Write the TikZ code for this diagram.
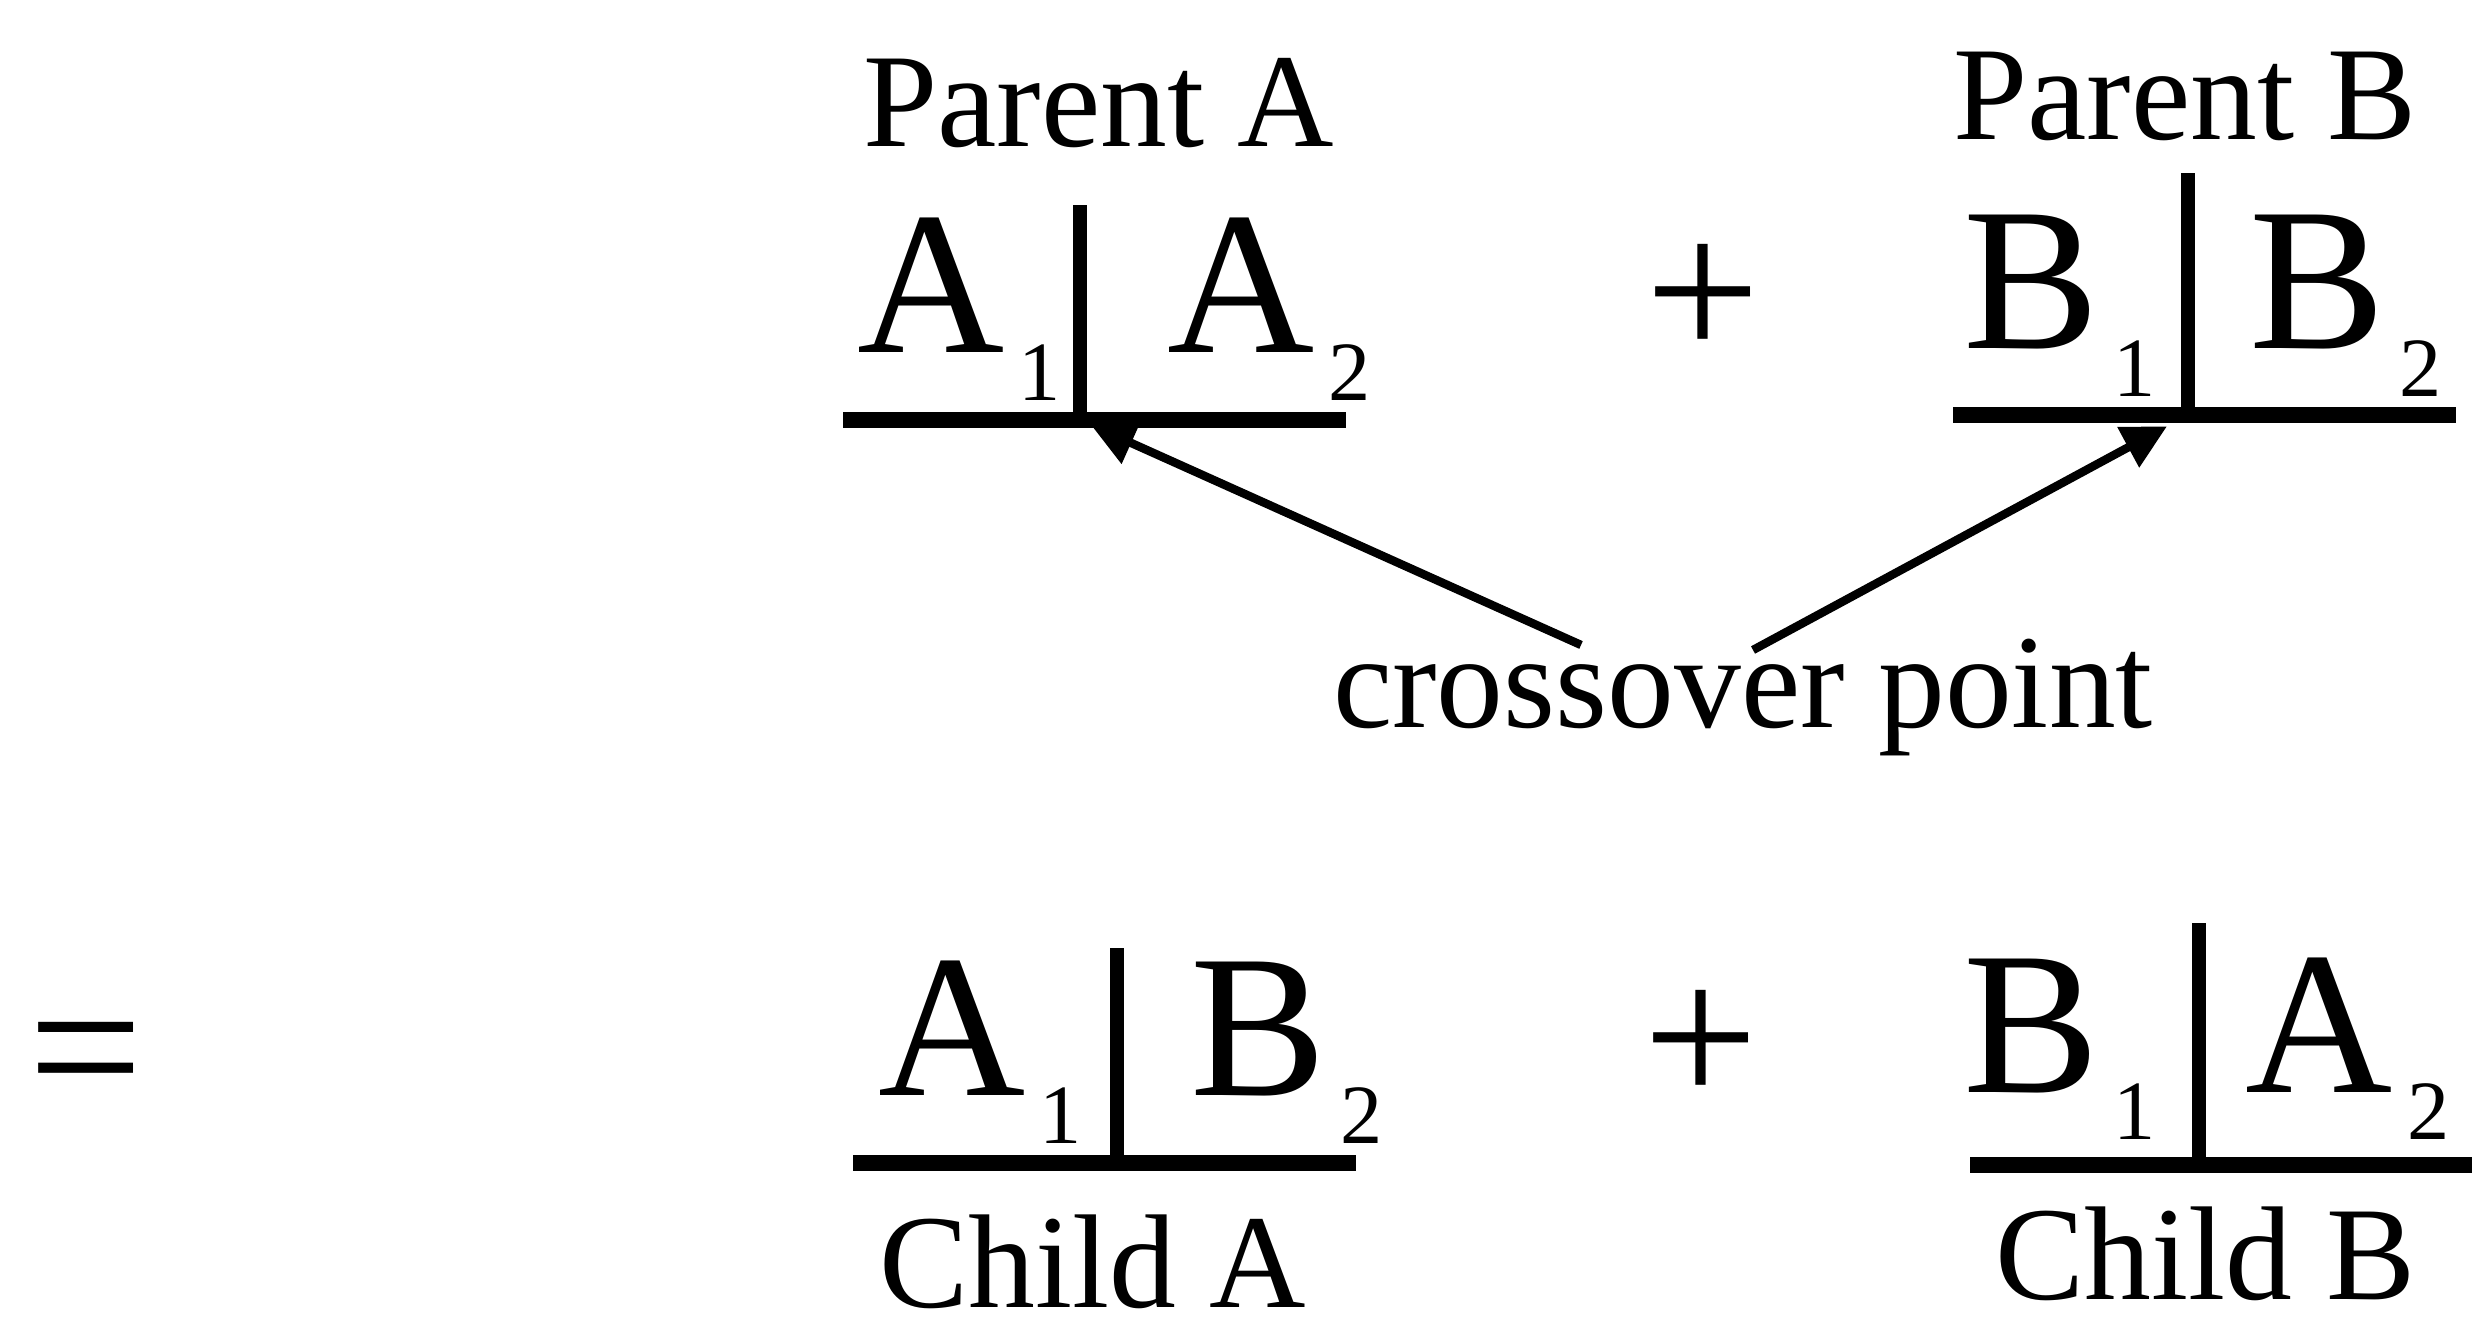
\documentclass[tikz,border=0pt]{standalone}
\usepackage{fontspec}
\setmainfont{Liberation Serif}
\usetikzlibrary{positioning,arrows.meta}
\newcommand{\gene}[2]{#1\hspace{4pt}\raisebox{-13.4pt}{\fontsize{24}{26}\selectfont #2}}
\tikzset{gene/.style ={inner sep=0pt, anchor=base west, font=\fontsize{58}{60}\selectfont},
sign/.style ={inner sep=0pt, anchor=base, font=\fontsize{58}{60}\selectfont},
tagtext/.style ={inner sep=0pt, anchor=base, font=\fontsize{38}{40}\selectfont},
chrom/.style ={line width=4.8pt},
cutbar/.style ={line width=4.2pt},
pointer/.style ={line width=2.4pt, -{Triangle[length=0.44cm,width=0.44cm]}}}
\begin{document}
\begin{tikzpicture}
\useasboundingbox (0,0) rectangle (24.75,13.28);
\node[tagtext] (PA) at (10.985,11.81) {Parent A};
\node[tagtext] (PB) at (21.85,11.88) {Parent B};
\node[gene] (A1) at (8.57,9.75) {\gene{A}{1}};
\node[gene] (A2) at (11.67,9.75) {\gene{A}{2}};
\node[sign] (P1) at (17.03,9.68) {+};
\node[gene] (B1) at (19.63,9.79) {\gene{B}{1}};
\node[gene] (B2) at (22.49,9.79) {\gene{B}{2}};
\coordinate (PAl) at (8.43,9.08);
\coordinate (PAr) at (13.46,9.08);
\coordinate (PAx) at (10.80,9.08);
\coordinate (PAt) at (10.80,11.23);
\coordinate (PBl) at (19.53,9.13);
\coordinate (PBr) at (24.56,9.13);
\coordinate (PBx) at (21.88,9.13);
\coordinate (PBt) at (21.88,11.55);
\draw[chrom] (PAl) -- (PAr);
\draw[cutbar] (PAx) -- (PAt);
\draw[chrom] (PBl) -- (PBr);
\draw[cutbar] (PBx) -- (PBt);
\node[tagtext] (X) at (17.43,6.00) {crossover point};
\coordinate (Xl) at (15.81,6.83);
\coordinate (Xr) at (17.53,6.78);
\draw[pointer, shorten >=0.12cm] (Xl) -- (PAx);
\draw[pointer, shorten >=0.24cm] (Xr) -- (PBx);
\node[sign] (EQ) at (0.86,2.13) {=};
\node[gene] (CA1) at (8.78,2.32) {\gene{A}{1}};
\node[gene] (CB2) at (11.90,2.32) {\gene{B}{2}};
\node[sign] (P2) at (17.01,2.23) {+};
\node[gene] (CB1) at (19.63,2.36) {\gene{B}{1}};
\node[gene] (CA2) at (22.45,2.36) {\gene{A}{2}};
\coordinate (CAl) at (8.53,1.65);
\coordinate (CAr) at (13.56,1.65);
\coordinate (CAx) at (11.17,1.65);
\coordinate (CAt) at (11.17,3.80);
\coordinate (CBl) at (19.70,1.63);
\coordinate (CBr) at (24.72,1.63);
\coordinate (CBx) at (21.99,1.63);
\coordinate (CBt) at (21.99,4.05);
\draw[chrom] (CAl) -- (CAr);
\draw[cutbar] (CAx) -- (CAt);
\draw[chrom] (CBl) -- (CBr);
\draw[cutbar] (CBx) -- (CBt);
\node[tagtext] (CA) at (10.925,0.21) {Child A};
\node[tagtext] (CB) at (22.055,0.29) {Child B};
\end{tikzpicture}
\end{document}
